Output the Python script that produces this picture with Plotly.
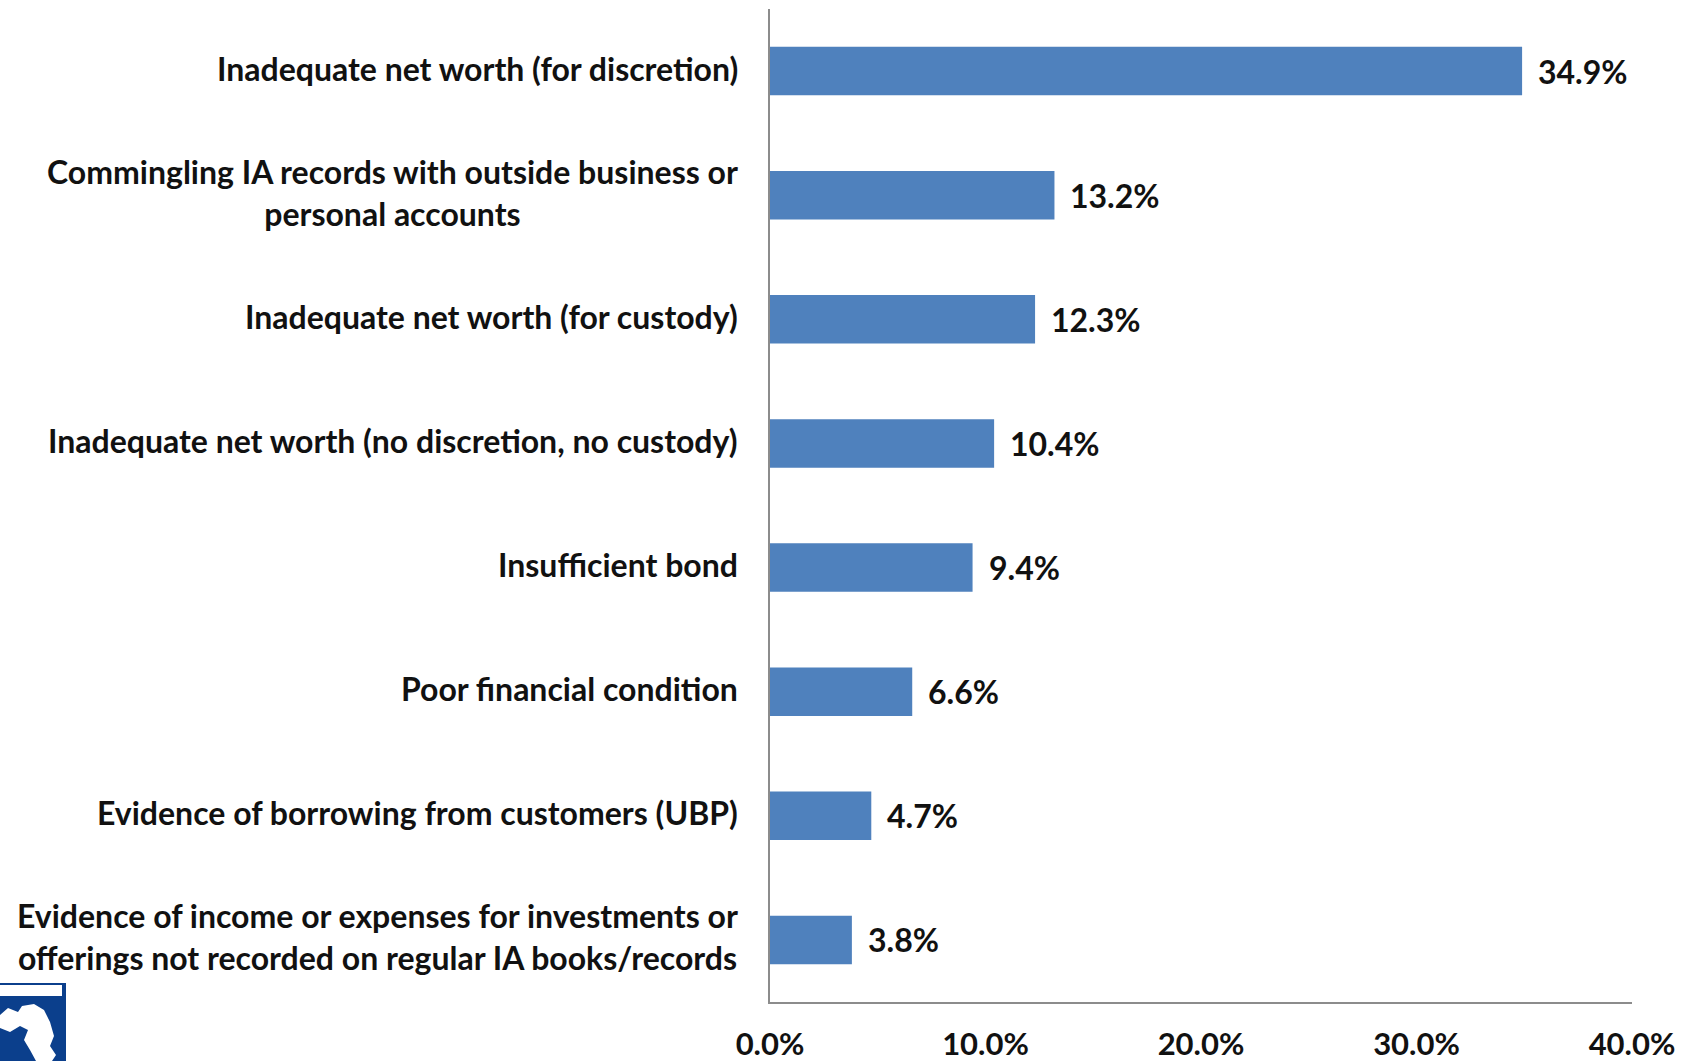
import plotly.graph_objects as go

# Deficiency categories (top to bottom) and share of findings
categories = [
    "Inadequate net worth (for discretion)",
    "Commingling IA records with outside business or<br>personal accounts",
    "Inadequate net worth (for custody)",
    "Inadequate net worth (no discretion, no custody)",
    "Insufficient bond",
    "Poor financial condition",
    "Evidence of borrowing from customers (UBP)",
    "Evidence of income or expenses for investments or<br>offerings not recorded on regular IA books/records",
]
shares = [34.9, 13.2, 12.3, 10.4, 9.4, 6.6, 4.7, 3.8]
value_labels = ["34.9%", "13.2%", "12.3%", "10.4%", "9.4%", "6.6%", "4.7%", "3.8%"]
tick_values = [0, 10, 20, 30, 40]
tick_labels = ["0.0%", "10.0%", "20.0%", "30.0%", "40.0%"]

W, H = 1694, 1061
L, R, T, B = 770, 62, 9, 59
FONT = "Lato"
TXT = "#111111"
BAR = "#4F81BD"

fig = go.Figure(
    go.Bar(
        x=shares,
        y=categories,
        orientation="h",
        marker=dict(color=BAR, line=dict(width=0)),
        width=0.39,
        hoverinfo="skip",
    )
)

annotations = []
# Category labels: block right-aligned to the axis, lines centred within it
for cat in categories:
    annotations.append(dict(
        x=0, y=cat, xref="paper", yref="y",
        text=f"<b>{cat}</b>", showarrow=False,
        xanchor="right", yanchor="middle", align="center",
        xshift=-30, yshift=3, font=dict(family=FONT, size=32, color=TXT),
    ))
# Value labels at the end of each bar
for val, lab, cat in zip(shares, value_labels, categories):
    annotations.append(dict(
        x=val, y=cat, xref="x", yref="y",
        text=f"<b>{lab}</b>", showarrow=False,
        xanchor="left", yanchor="middle", xshift=14,
        font=dict(family=FONT, size=32, color=TXT),
    ))

# Emblem in the lower-left corner
pw = W - L - R
ph = H - T - B


def px(xp):
    return (xp - L) / pw


def py(yp):
    return (H - B - yp) / ph


shapes = [
    dict(type="rect", xref="paper", yref="paper",
         x0=px(0), x1=px(66), y0=py(1061), y1=py(983),
         fillcolor="#0B3F8C", line=dict(width=0), layer="above"),
    dict(type="rect", xref="paper", yref="paper",
         x0=px(0), x1=px(62), y0=py(996), y1=py(985),
         fillcolor="white", line=dict(width=0), layer="above"),
]
blob = [(0, 1015), (8, 1008), (18, 1012), (22, 1006), (34, 1004), (44, 1010),
        (50, 1022), (54, 1036), (50, 1046), (56, 1055), (52, 1061), (36, 1061),
        (30, 1050), (24, 1040), (28, 1030), (20, 1026), (10, 1032), (0, 1028)]
path = "M " + " L ".join(f"{px(a)},{py(b)}" for a, b in blob) + " Z"
shapes.append(dict(type="path", xref="paper", yref="paper", path=path,
                   fillcolor="white", line=dict(width=0), layer="above"))

fig.update_layout(
    width=W, height=H,
    margin=dict(l=L, r=R, t=T, b=B, pad=0, autoexpand=False),
    paper_bgcolor="white", plot_bgcolor="white",
    showlegend=False,
    bargap=0.61,
    annotations=annotations,
    shapes=shapes,
    font=dict(family=FONT, color=TXT),
)
fig.update_xaxes(
    range=[0, 40], tickvals=tick_values, ticktext=[f"<b>{t}</b>" for t in tick_labels],
    showgrid=False, zeroline=False, showline=True, linecolor="#8C8C8C", linewidth=1.5,
    ticks="", ticklabelstandoff=14, automargin=False,
    tickfont=dict(family=FONT, size=31, color=TXT),
)
fig.update_yaxes(
    autorange="reversed", showticklabels=False, showgrid=False, zeroline=False,
    showline=True, linecolor="#8C8C8C", linewidth=1.5, ticks="", automargin=False,
)

fig.write_html("out.html")
